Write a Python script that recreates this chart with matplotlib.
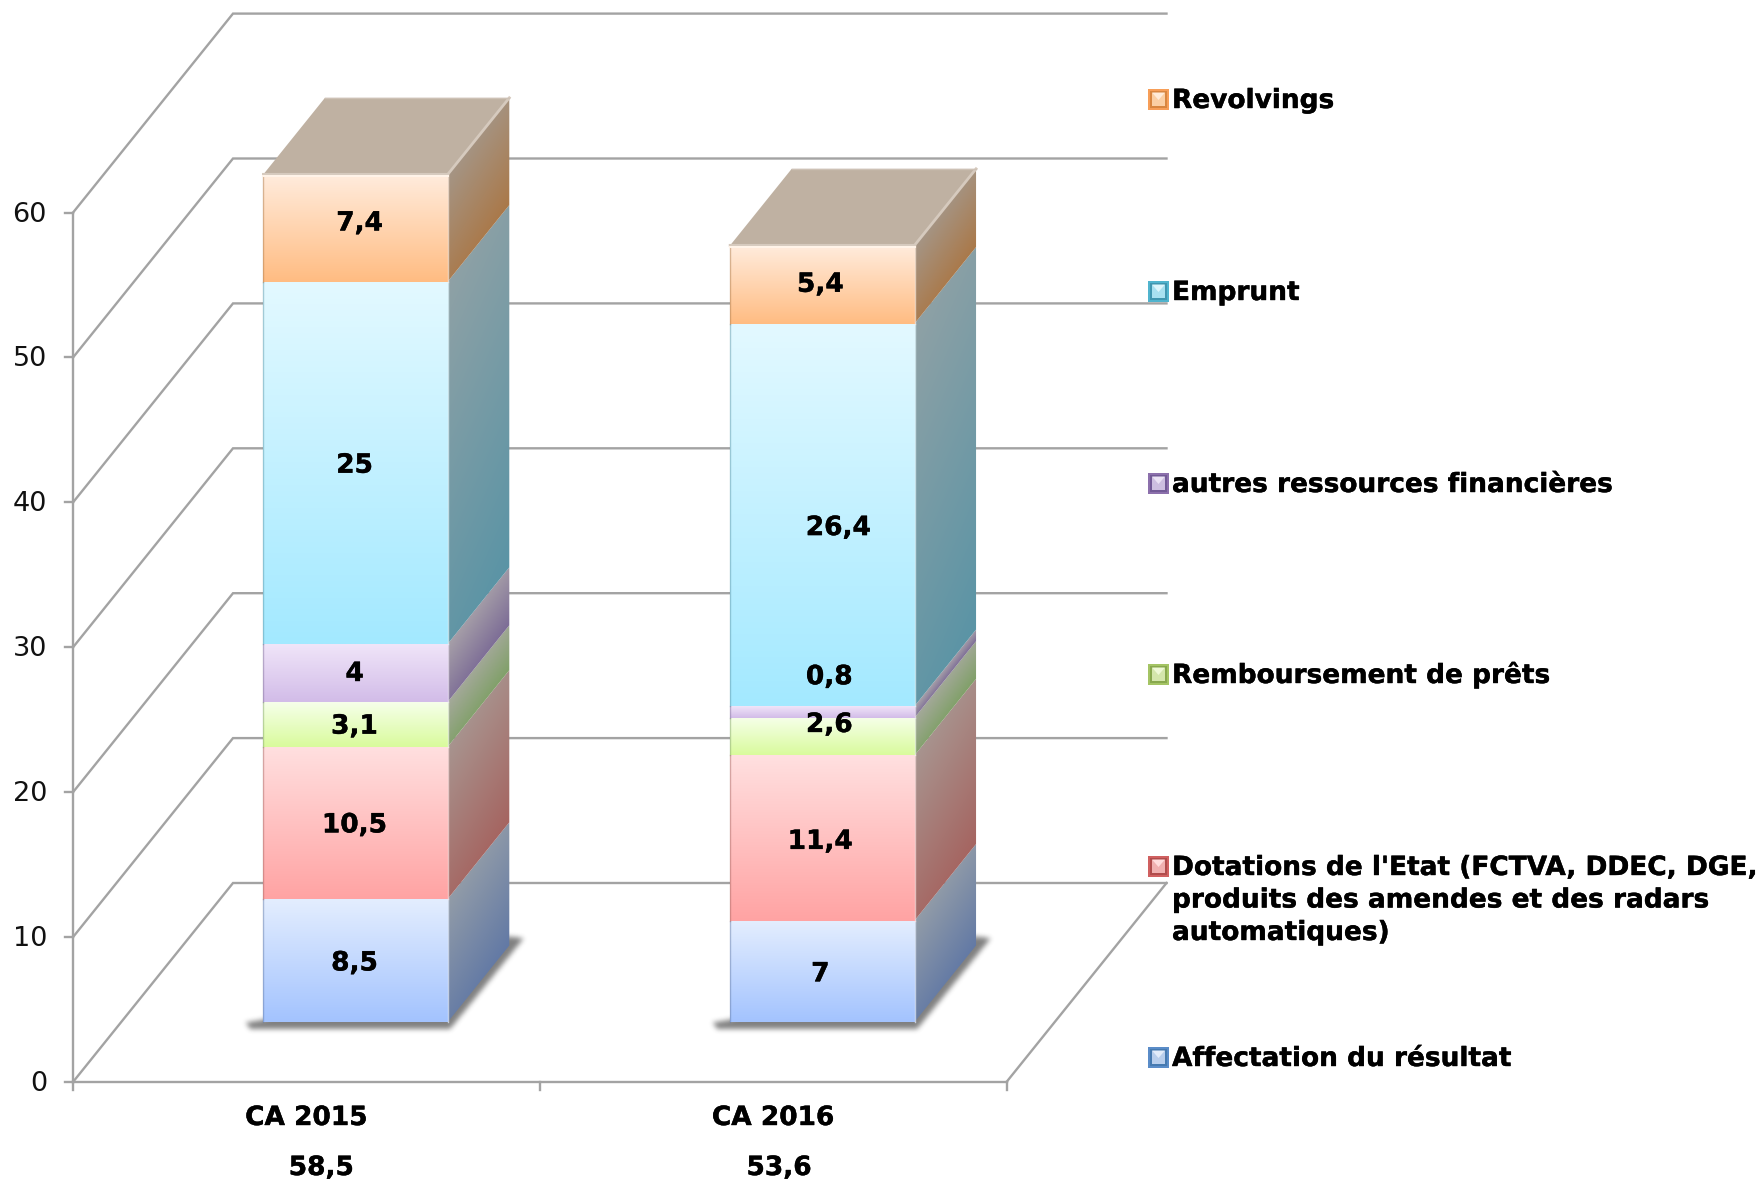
import numpy as np
import matplotlib
matplotlib.use("Agg")
import matplotlib.pyplot as plt
import matplotlib.patheffects as pe
from matplotlib.colors import to_rgb
from matplotlib.patches import Polygon, Rectangle
from matplotlib.path import Path

plt.rcParams['font.family'] = ['DejaVu Sans']

# data, bottom to top of the stack
categories = ["CA 2015", "CA 2016"]
totals = ["58,5", "53,6"]
affectation = [8.5, 7]
dotations = [10.5, 11.4]
remboursement = [3.1, 2.6]
autres = [4, 0.8]
emprunt = [25, 26.4]
revolvings = [7.4, 5.4]
series = [affectation, dotations, remboursement, autres, emprunt, revolvings]

legend_labels = ["Affectation du résultat",
                 "Dotations de l'Etat (FCTVA, DDEC, DGE,\nproduits des amendes et des radars\nautomatiques)",
                 "Remboursement de prêts",
                 "autres ressources financières",
                 "Emprunt",
                 "Revolvings"]
yticks = [0, 10, 20, 30, 40, 50, 60]

# colours per series
front_top = ["#E4EEFF", "#FFE0E0", "#F6FFEA", "#F0E5F9", "#E3F9FF", "#FFECDD"]
front_bot = ["#A3C3FE", "#FFA3A3", "#D9FB9C", "#D2BCE8", "#A3E9FF", "#FFBC82"]
side_light = ["#929CA8", "#A8948F", "#A4A99A", "#A69FA8", "#8FA1A6", "#A59585"]
side_dark = ["#6279A5", "#A56460", "#80A068", "#7C6C96", "#5A94A5", "#AA7848"]
legend_edge = ["#5A8CC8", "#D06060", "#A4C464", "#8C70AC", "#50B4CE", "#F79E58"]
legend_ring = ["#467AB0", "#B04C4C", "#88A84E", "#725A96", "#4096B0", "#D88640"]
legend_inner = ["#B8CEEC", "#F0B0B0", "#D4E6AC", "#CDBFE0", "#A8E0F0", "#FBCFA4"]
legend_tri = ["#E2ECFA", "#FFDCDC", "#EEF8D6", "#EAE2F4", "#DDF5FB", "#FFEBD8"]

GRID = "#A3A3A3"
TOP = "#BFB1A2"

W, H = 1764, 1180
X_UNIT = 466.75  # px per category
Y_UNIT = 14.49   # px per value unit
X0, Y0 = 73, 1082
DEPTH_X = 160 / X_UNIT
DEPTH_Y = 199 / Y_UNIT
D_FRONT = 0.3015
D_BACK = 0.686
BAR_LEFT = 0.3046
BAR_W = 0.395
TEXT_SIZE = 19
BOLD = [pe.withStroke(linewidth=0.3, foreground="black")]


def proj(x, v, d=0.0):
    return (x + d * DEPTH_X, v + d * DEPTH_Y)


def face_image(ax, pts, img, z):
    pts = np.array(pts)
    x0, y0 = pts.min(axis=0)
    x1, y1 = pts.max(axis=0)
    im = ax.imshow(img, extent=(x0, x1, y0, y1), origin="upper", aspect="auto",
                   zorder=z, interpolation="bilinear")
    im.set_clip_path(Polygon(pts, closed=True, transform=ax.transData))


def front_face(ax, pts, c1, c2, z):
    t = np.linspace(0, 1, 200)[:, None]
    c1, c2 = np.array(to_rgb(c1)), np.array(to_rgb(c2))
    img = (c1 + (c2 - c1) * t)[:, None, :]
    face_image(ax, pts, img, z)


def side_face(ax, pts, c1, c2, z):
    # dark along the slanted lower edge, light toward the slanted upper edge
    pts_a = np.array(pts)
    x0, x1 = pts_a[:, 0].min(), pts_a[:, 0].max()
    y0, y1 = pts_a[:, 1].min(), pts_a[:, 1].max()
    X, Y = np.meshgrid(np.linspace(x0, x1, 120), np.linspace(y1, y0, 400))
    s = (Y - pts_a[0, 1] - (X - x0) * DEPTH_Y / DEPTH_X) / (pts_a[1, 1] - pts_a[0, 1])
    u = (X - x0) / (x1 - x0)
    t = np.clip(0.85 * (1 - s) + 0.15 * u, 0, 1)
    c1, c2 = np.array(to_rgb(c1)), np.array(to_rgb(c2))
    img = c1 + (c2 - c1) * t[..., None]
    face_image(ax, pts, img, z)


def floor_shadow(ax, p1, p2, p3, z):
    # polygon mask on a pixel grid, box blurred a few times
    poly = np.array([
        (p1[0] - 18 / X_UNIT, p1[1] - 1 / Y_UNIT),
        (p1[0] - 13 / X_UNIT, p1[1] - 7 / Y_UNIT),
        (p2[0] + 3 / X_UNIT, p2[1] - 7 / Y_UNIT),
        (p3[0] + 15 / X_UNIT, p3[1] + 7 / Y_UNIT),
        (p3[0], p3[1] + 9 / Y_UNIT),
        (p1[0], p1[1] + 2 / Y_UNIT)])
    pad_x, pad_y = 16 / X_UNIT, 16 / Y_UNIT
    x0, x1 = poly[:, 0].min() - pad_x, poly[:, 0].max() + pad_x
    y0, y1 = poly[:, 1].min() - pad_y, poly[:, 1].max() + pad_y
    nx = int((x1 - x0) * X_UNIT)
    ny = int((y1 - y0) * Y_UNIT)
    X, Y = np.meshgrid(np.linspace(x0, x1, nx), np.linspace(y0, y1, ny))
    mask = Path(poly).contains_points(np.c_[X.ravel(), Y.ravel()]).reshape(ny, nx).astype(float)
    kernel = np.ones(5) / 5
    for _ in range(3):
        mask = np.apply_along_axis(lambda r: np.convolve(r, kernel, mode="same"), 0, mask)
        mask = np.apply_along_axis(lambda r: np.convolve(r, kernel, mode="same"), 1, mask)
    rgba = np.zeros((ny, nx, 4))
    rgba[..., :3] = 0.2
    rgba[..., 3] = mask * 0.62
    ax.imshow(rgba, extent=(x0, x1, y0, y1), origin="lower", aspect="auto", zorder=z)


fig = plt.figure(figsize=(W / 100, H / 100), dpi=100)
ax = fig.add_axes([0, 0, 1, 1])
ax.axis("off")
xlim = (-X0 / X_UNIT, (W - X0) / X_UNIT)
ylim = (-(H - Y0) / Y_UNIT, Y0 / Y_UNIT)

# walls
lw = 1.7
for t in yticks:
    a = proj(0, t, 0)
    b = proj(0, t, 1)
    c = proj(2, t, 1)
    ax.plot([a[0], b[0], c[0]], [a[1], b[1], c[1]], color=GRID, lw=lw, zorder=1,
            solid_joinstyle="miter")
    ax.plot([a[0] - 8 / X_UNIT, a[0]], [t, t], color=GRID, lw=lw, zorder=1)
    ax.text(a[0] - 26 / X_UNIT, t - 2 / Y_UNIT, str(t), ha="right", va="center", fontsize=19.5,
            color="#111111")
ax.plot([0, 0], [0, yticks[-1]], color=GRID, lw=lw, zorder=1)
ax.plot([0, 2], [0, 0], color=GRID, lw=lw, zorder=1)
for i in range(3):
    ax.plot([i, i], [0, -8 / Y_UNIT], color=GRID, lw=lw, zorder=1)
e = proj(2, 0, 1)
ax.plot([2, e[0]], [0, e[1]], color=GRID, lw=lw, zorder=1)

# bars
label_dx = [[-1, -1, -1, -1, -1, 4], [-2, -2, 7, 7, 16, -2]]
label_dy = [[-3, -2.6, -2.4, -1.2, -3, 4.5], [-3, -3.9, 11.6, 34.7, -13.2, -0.3]]
total_dx = [15, 6]
z = 10
for i in range(len(categories)):
    xl = i + BAR_LEFT
    xr = xl + BAR_W
    base = 0.0

    floor_shadow(ax, proj(xl, 0, D_FRONT), proj(xr, 0, D_FRONT), proj(xr, 0, D_BACK), z)
    z += 1

    for s, vals in enumerate(series):
        v = vals[i]
        top = base + v
        side = [proj(xr, base, D_FRONT), proj(xr, top, D_FRONT),
                proj(xr, top, D_BACK), proj(xr, base, D_BACK)]
        side_face(ax, side, side_light[s], side_dark[s], z)
        z += 1
        front = [proj(xl, base, D_FRONT), proj(xl, top, D_FRONT),
                 proj(xr, top, D_FRONT), proj(xr, base, D_FRONT)]
        front_face(ax, front, front_top[s], front_bot[s], z)
        z += 1
        lx0, lv0 = proj(xl, base, D_FRONT)
        lx1, lv1 = proj(xl, top, D_FRONT)
        ax.plot([lx0, lx1], [lv0, lv1], color=side_dark[s], lw=1, alpha=0.45, zorder=z)
        ax.plot([lx0 + BAR_W] * 2, [lv0, lv1], color=front_top[s], lw=1, alpha=0.7, zorder=z)
        z += 1
        cx, cv = proj(xl + BAR_W / 2, base + v / 2, D_FRONT)
        ax.text(cx + label_dx[i][s] / X_UNIT, cv + label_dy[i][s] / Y_UNIT,
                f"{v:g}".replace(".", ","), ha="center", va="center",
                fontsize=TEXT_SIZE, fontweight="bold", color="black", zorder=100,
                path_effects=BOLD)
        base = top

    # cap
    cap = [proj(xl, base, D_FRONT), proj(xr, base, D_FRONT),
           proj(xr, base, D_BACK), proj(xl, base, D_BACK)]
    ax.add_patch(Polygon(cap, closed=True, facecolor=TOP, edgecolor="none", zorder=z))
    z += 1
    ax.plot([cap[0][0], cap[1][0], cap[2][0]], [cap[0][1], cap[1][1], cap[2][1]],
            color="#D6CABE", lw=2, zorder=z)
    ax.plot([cap[3][0], cap[2][0]], [cap[3][1], cap[2][1]], color="#CDC1B5", lw=1, zorder=z)
    ax.plot([cap[0][0], cap[1][0]], [cap[0][1] - 0.1, cap[1][1] - 0.1],
            color="#FFF3E8", lw=1.5, zorder=z)
    z += 1

    # category labels
    ax.text(i + 0.5, -(1118 - Y0) / Y_UNIT, categories[i], ha="center", va="center",
            fontsize=TEXT_SIZE, fontweight="bold", zorder=100, path_effects=BOLD)
    ax.text(i + 0.5 + total_dx[i] / X_UNIT, -(1168 - Y0) / Y_UNIT, totals[i],
            ha="center", va="center", fontsize=TEXT_SIZE, fontweight="bold", zorder=100,
            path_effects=BOLD)

ax.set_xlim(xlim)
ax.set_ylim(ylim)

# legend, positioned in figure pixels
ax_px = fig.add_axes([0, 0, 1, 1], facecolor="none")
ax_px.axis("off")
ax_px.set_xlim(0, W)
ax_px.set_ylim(H, 0)
legend_y = [1057, 866, 674, 483, 291, 99]
for s, label in enumerate(legend_labels):
    y = legend_y[s]
    ax_px.add_patch(Rectangle((1148, y - 10.5), 21, 21, facecolor=legend_edge[s], edgecolor="none"))
    ax_px.add_patch(Rectangle((1150, y - 8.5), 17, 17, facecolor=legend_ring[s], edgecolor="none"))
    ax_px.add_patch(Rectangle((1152, y - 6.5), 13, 13, facecolor=legend_inner[s], edgecolor="none"))
    ax_px.add_patch(Polygon([(1152, y - 6.5), (1165, y - 6.5), (1158.5, y + 1)], closed=True,
                            facecolor=legend_tri[s], edgecolor="none"))
    for j, line in enumerate(label.split("\n")):
        ax_px.text(1172, y + 9 + j * 32.5, line, ha="left", va="baseline", fontsize=TEXT_SIZE,
                   fontweight="bold", path_effects=BOLD)

fig.savefig("out.png", dpi=100)
